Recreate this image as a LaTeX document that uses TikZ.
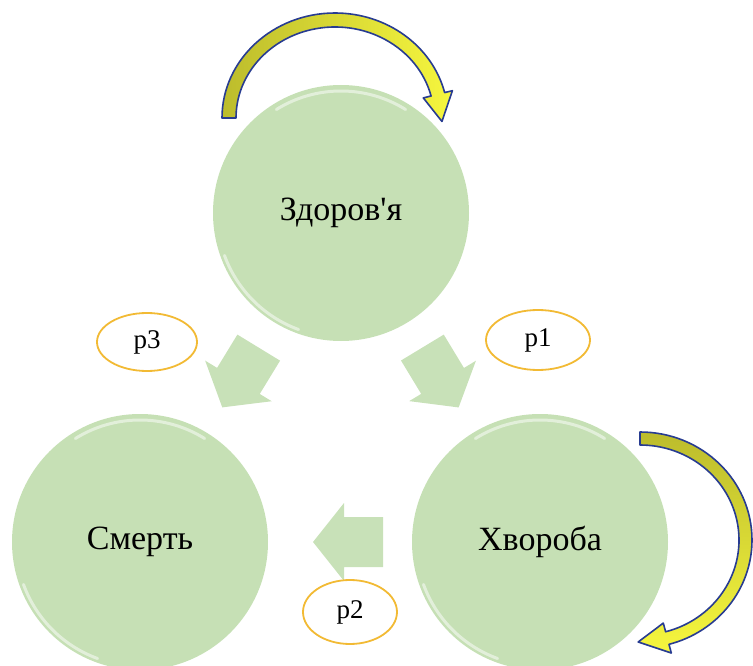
\documentclass[tikz,border=0pt]{standalone}
\usepackage{fontspec}
\setmainfont{Liberation Serif}
\usetikzlibrary{shapes.geometric,calc}
\definecolor{bubblegreen}{RGB}{198,224,181}
\definecolor{arrowgreen}{RGB}{200,225,184}
\definecolor{olivey}{RGB}{188,188,44}
\definecolor{brighty}{RGB}{246,246,62}
\definecolor{arrowblue}{RGB}{40,60,145}
\definecolor{goldring}{RGB}{242,186,52}
\begin{document}
\begin{tikzpicture}[x=1pt,y=1pt,
  bubble/.style={circle, fill=bubblegreen, minimum size=256pt, inner sep=0pt, font=\fontsize{34}{40}\selectfont},
  plabel/.style={ellipse, draw=goldring, line width=1.8pt, fill=white, inner sep=0pt, font=\fontsize{27}{31}\selectfont},
  hl/.style={white, opacity=0.5, line width=3pt, line cap=round},
  blockfill/.style={fill=arrowgreen},
  curvearrow/.style={draw=arrowblue, line width=1.6pt, line join=round},
  blockarrow/.pic={\fill[blockfill] (-35,25) -- (4,25) -- (4,39) -- (35,0) -- (4,-39) -- (4,-25) -- (-35,-25) -- cycle;}
]
\useasboundingbox (0,0) rectangle (753,-666);

% state circles
\node[bubble] (zd) at (341,-213) {Здоров\textquotesingle я};
\node[bubble] (sm) at (140,-542) {Смерть};
\node[bubble] (hv) at (540,-542) {Хвороба};

% soft highlights on the circles
\foreach \c in {zd,sm,hv}{
  \draw[hl] ($(\c.center)+(58:122)$) arc[start angle=58, end angle=122, radius=122];
  \draw[hl] ($(\c.center)+(200:124)$) arc[start angle=200, end angle=250, radius=124];
}

% block arrows between the states
\path (zd.center) -- (sm.center) coordinate[pos=0.5] (m3);
\path (zd.center) -- (hv.center) coordinate[pos=0.5] (m1);
\path (hv.center) -- (sm.center) coordinate[pos=0.48] (m2);
\pic[rotate=-121.4] at (m3) {blockarrow};
\pic[rotate=-58.8] at (m1) {blockarrow};
\pic[rotate=180] at (m2) {blockarrow};

% probability labels
\node[plabel, minimum width=100pt, minimum height=58pt] (l3) at (147,-342) {p3};
\node[plabel, minimum width=104pt, minimum height=60pt] (l1) at (538,-340) {p1};
\node[plabel, minimum width=94pt, minimum height=64pt] (l2) at (350,-612) {p2};

% self-loop arrows
\coordinate (c1) at (335,-118);
\coordinate (c2) at (640,-540);
\begin{scope}[shift={(c1)}]
\path[curvearrow, left color=olivey, right color=brighty]
  (180:113 and 105) arc[start angle=180, end angle=14, x radius=113, y radius=105]
  -- (14:121 and 113) -- (-2:107 and 99) -- (14:91 and 83)
  -- (14:99 and 91) arc[start angle=14, end angle=180, x radius=99, y radius=91] -- cycle;
\end{scope}
\begin{scope}[shift={(c2)}]
\path[curvearrow, top color=olivey, bottom color=brighty]
  (90:112 and 108) arc[start angle=90, end angle=-75, x radius=112, y radius=108]
  -- (-75:121 and 117) -- (-91:104 and 102) -- (-75:90 and 86)
  -- (-75:99 and 95) arc[start angle=-75, end angle=90, x radius=99, y radius=95] -- cycle;
\end{scope}
\end{tikzpicture}
\end{document}
